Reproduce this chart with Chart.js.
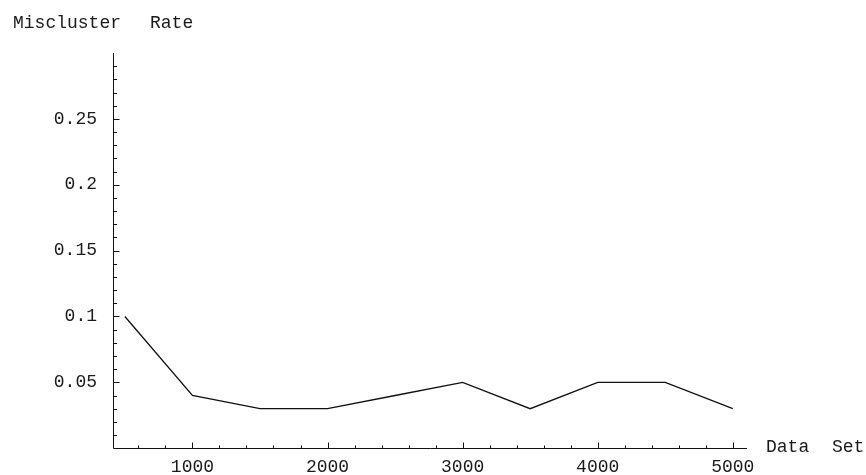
<!DOCTYPE html>
<html>
<head>
<meta charset="utf-8">
<script src="https://cdn.jsdelivr.net/npm/chart.js@4/dist/chart.umd.min.js"></script>
<style>
  body { margin: 0; background: #fff; }
  .wrap { position: relative; width: 866px; height: 475px; }
  .lbl { position: absolute; font: 18px "Liberation Mono", "DejaVu Sans Mono", monospace; line-height: 18px; color: #1a1a1a; white-space: pre; }
</style>
</head>
<body>
<div class="wrap">
  <canvas id="chart" width="866" height="475"></canvas>
  <div class="lbl" style="left:13px; top:14px;">Miscluster</div>
  <div class="lbl" style="left:150px; top:14px;">Rate</div>
  <div class="lbl" style="left:766px; top:438px;">Data</div>
  <div class="lbl" style="left:832px; top:438px;">Set</div>
</div>
<script>
// data
const dataSetSizes = [500, 1000, 1500, 2000, 2500, 3000, 3500, 4000, 4500, 5000];
const missclusterRate = [0.1, 0.04, 0.03, 0.03, 0.04, 0.05, 0.03, 0.05, 0.05, 0.03];
const xTickValues = [1000, 2000, 3000, 4000, 5000];
const yTickValues = [0.05, 0.1, 0.15, 0.2, 0.25];

const monoFont = { family: '"Liberation Mono", "DejaVu Sans Mono", monospace', size: 18 };

// draws the axes with inward ticks, like the old Mathematica plot
const axesPlugin = {
  id: 'axesPlugin',
  afterDraw(chart) {
    const ctx = chart.ctx;
    const x = chart.scales.x;
    const y = chart.scales.y;
    const area = chart.chartArea;
    const x0 = area.left + 0.5;
    const y0 = Math.round(y.getPixelForValue(0)) + 0.5;

    ctx.save();
    ctx.strokeStyle = '#111';
    ctx.lineWidth = 1;
    ctx.beginPath();
    ctx.moveTo(x0, area.top);
    ctx.lineTo(x0, y0);
    ctx.lineTo(area.right, y0);

    // y ticks every 0.01, longer every 0.05
    for (let i = 1; i < 30; i++) {
      const py = Math.round(y.getPixelForValue(i / 100)) + 0.5;
      const len = i % 5 === 0 ? 6 : 3.5;
      ctx.moveTo(x0, py);
      ctx.lineTo(x0 + len, py);
    }
    // x ticks every 200, longer every 1000
    for (let v = 600; v <= 5000; v += 200) {
      const px = Math.round(x.getPixelForValue(v)) + 0.5;
      const len = v % 1000 === 0 ? 6 : 3;
      ctx.moveTo(px, y0);
      ctx.lineTo(px, y0 - len);
    }
    ctx.stroke();
    ctx.restore();
  }
};

new Chart(document.getElementById('chart'), {
  type: 'line',
  data: {
    datasets: [{
      data: dataSetSizes.map((v, i) => ({ x: v, y: missclusterRate[i] })),
      borderColor: '#111',
      borderWidth: 1.3,
      pointRadius: 0,
      tension: 0,
      fill: false
    }]
  },
  options: {
    responsive: false,
    animation: false,
    layout: { padding: { top: 53, right: 119, left: 0, bottom: 0 } },
    plugins: { legend: { display: false }, tooltip: { enabled: false } },
    scales: {
      x: {
        type: 'linear',
        min: 412,
        max: 5105,
        grid: { display: false, drawTicks: false },
        border: { display: false },
        afterBuildTicks: s => { s.ticks = xTickValues.map(v => ({ value: v })); },
        afterFit: s => { s.height = 26; },
        ticks: { font: monoFont, color: '#1a1a1a', padding: 8, maxRotation: 0, autoSkip: false, callback: v => String(v) }
      },
      y: {
        type: 'linear',
        min: 0,
        max: 0.3,
        grid: { display: false, drawTicks: false },
        border: { display: false },
        afterBuildTicks: s => { s.ticks = yTickValues.map(v => ({ value: v })); },
        afterFit: s => { s.width = 113; },
        ticks: { font: monoFont, color: '#1a1a1a', padding: 16, autoSkip: false, callback: v => String(parseFloat(v.toFixed(2))) }
      }
    }
  },
  plugins: [axesPlugin]
});
</script>
</body>
</html>
